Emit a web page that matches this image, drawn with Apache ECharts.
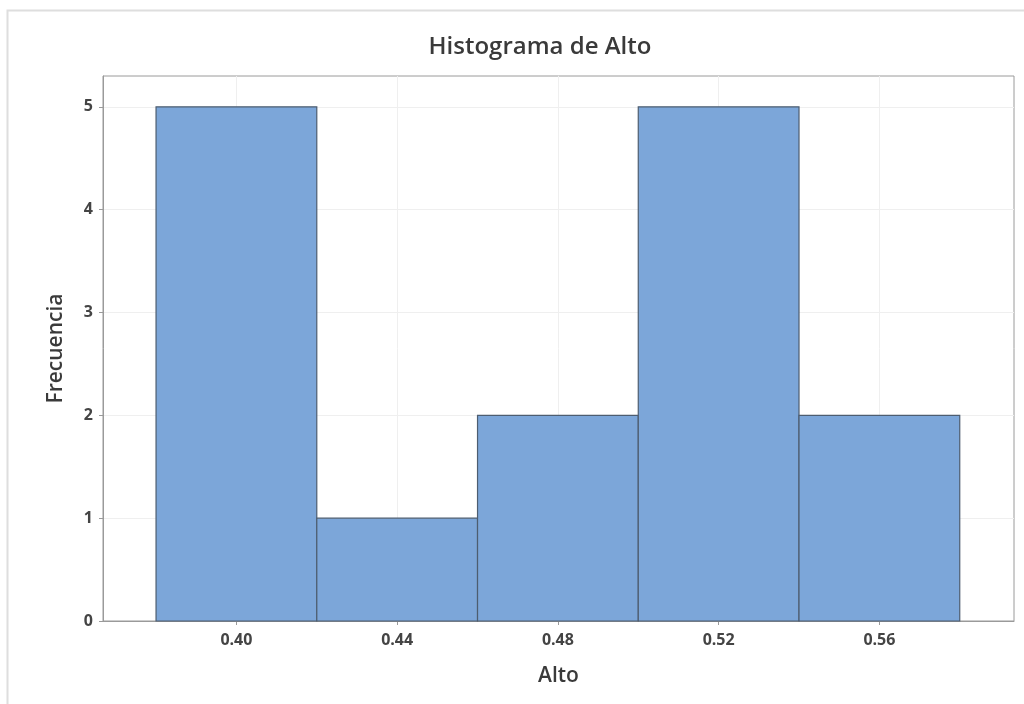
<!DOCTYPE html>
<html>
<head>
<meta charset="utf-8">
<script src="https://cdn.jsdelivr.net/npm/echarts@6/dist/echarts.min.js"></script>
<style>
  html, body { margin: 0; padding: 0; background: #fff; }
  #chart { width: 1024px; height: 704px; }
</style>
</head>
<body>
<div id="chart"></div>
<script>
// bins of the histogram (left edge, width) and counts
var binStarts = [0.38, 0.42, 0.46, 0.50, 0.54];
var binWidth = 0.04;
var counts = [5, 1, 2, 5, 2];
var xTicks = [0.40, 0.44, 0.48, 0.52, 0.56];
var yTicks = [0, 1, 2, 3, 4, 5];

(function () {
    var myChart = echarts.init(document.querySelector("#chart"));
    var font = '"Open Sans", "Noto Sans", sans-serif';

    var data = binStarts.map(function (s, i) {
        return [s, s + binWidth, counts[i]];
    });

    var option = {
        animation: false,
        backgroundColor: '#fff',
        title: {
            text: 'Histograma de Alto',
            left: 535,
            top: 30,
            textAlign: 'center',
            textStyle: { fontFamily: font, fontSize: 24, fontWeight: 600, color: '#3a3a3a' }
        },
        graphic: [{
            type: 'rect',
            shape: { x: 7.5, y: 10.5, width: 1030, height: 720 },
            style: { fill: 'none', stroke: '#dedede', lineWidth: 2 },
            silent: true
        }],
        grid: {
            left: 103, right: 10, top: 76, bottom: 83,
            show: true,
            borderColor: '#9a9a9a',
            borderWidth: 1
        },
        xAxis: {
            type: 'value',
            min: 0.3668,
            max: 0.5935,
            name: 'Alto',
            nameLocation: 'middle',
            nameGap: 45,
            nameTextStyle: { fontFamily: font, fontSize: 21, fontWeight: 600, color: '#3a3a3a' },
            axisLine: { show: true, lineStyle: { color: '#9a9a9a' } },
            axisTick: { show: true, length: 4, customValues: xTicks, lineStyle: { color: '#9a9a9a' } },
            axisLabel: {
                customValues: xTicks,
                margin: 11,
                fontFamily: font, fontSize: 16, fontWeight: 'bold', color: '#444',
                formatter: function (v) { return v.toFixed(2); }
            },
            splitLine: { show: true, lineStyle: { color: '#efefef' } }
        },
        yAxis: {
            type: 'value',
            min: 0,
            max: 5.3,
            interval: 1,
            name: 'Frecuencia',
            nameLocation: 'middle',
            nameGap: 36,
            nameTextStyle: { fontFamily: font, fontSize: 21, fontWeight: 600, color: '#3a3a3a' },
            axisLine: { show: true, lineStyle: { color: '#9a9a9a' } },
            axisTick: { show: true, length: 4, customValues: yTicks, lineStyle: { color: '#9a9a9a' } },
            axisLabel: {
                customValues: yTicks,
                margin: 10,
                fontFamily: font, fontSize: 16, fontWeight: 'bold', color: '#444'
            },
            splitLine: { show: true, lineStyle: { color: '#efefef' } }
        },
        series: [{
            type: 'custom',
            data: data,
            encode: { x: [0, 1], y: 2 },
            renderItem: function (params, api) {
                var p0 = api.coord([api.value(0), api.value(2)]);
                var p1 = api.coord([api.value(1), 0]);
                return {
                    type: 'rect',
                    shape: { x: p0[0], y: p0[1], width: p1[0] - p0[0], height: p1[1] - p0[1] },
                    style: { fill: '#7ca6d9', stroke: '#4d5d70', lineWidth: 1.2 }
                };
            }
        }]
    };

    myChart.setOption(option);
    window.addEventListener("resize", function () {
        myChart.resize();
    });
})();
</script>
</body>
</html>
